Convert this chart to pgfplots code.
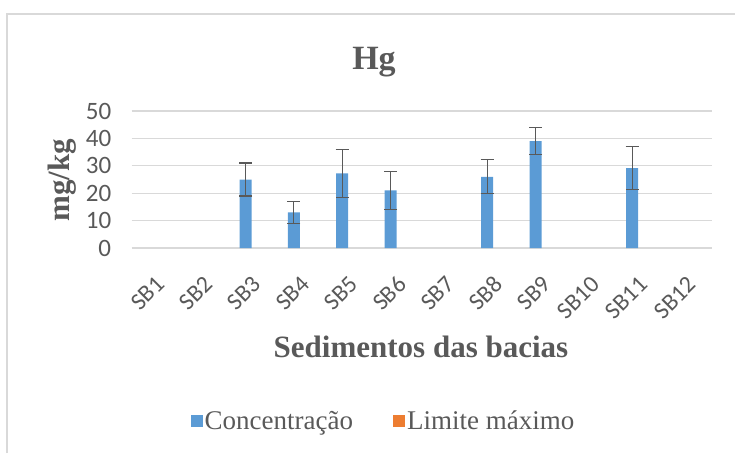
\documentclass[border=0pt]{standalone}
\usepackage{pgfplots}
\pgfplotsset{compat=1.18}
\usepackage{pgfplotstable}
\usepackage{fontspec}
\setmainfont{Liberation Serif}
\newfontfamily\calibri{Carlito}
\definecolor{txt}{HTML}{595959}
\definecolor{gridc}{HTML}{D9D9D9}
\definecolor{cblue}{HTML}{5B9BD5}
\definecolor{corange}{HTML}{ED7D31}
\definecolor{errc}{HTML}{595959}

\pgfplotstableread{
x y e
2 25 6
3 13 4
4 27.2 8.8
5 21 7
7 26 6.2
8 39 4.9
10 29.2 7.9
}\conc

\pgfplotstableread{
x y
0 0
1 0
2 0
3 0
4 0
5 0
6 0
7 0
8 0
9 0
10 0
11 0
}\limite

\begin{document}
\begin{tikzpicture}
\useasboundingbox (0pt,0pt) rectangle (735pt,-453pt);
\draw[gridc, line width=2pt] (7pt,-453pt) -- (7pt,-14pt) -- (735pt,-14pt);
\begin{axis}[
  at={(131.7pt,-248pt)}, anchor=south west,
  scale only axis, width=580pt, height=137pt,
  ybar=2pt, bar width=12pt,
  xmin=-0.5, xmax=11.5, ymin=0, ymax=50,
  ytick={0,10,...,50},
  xtick={0,...,11},
  xticklabels={SB1,SB2,SB3,SB4,SB5,SB6,SB7,SB8,SB9,SB10,SB11,SB12},
  ymajorgrids, grid style={gridc, line width=1.3pt},
  axis line style={draw=none}, major tick length=0pt,
  tick label style={font=\calibri\fontsize{25}{29}\selectfont, text=txt},
  /pgf/number format/assume math mode=true,
  yticklabel style={anchor=east, xshift=-17pt},
  xticklabel style={yshift=-30pt, xshift=7pt, rotate=45, anchor=east, font=\calibri\fontsize{24}{28}\selectfont},
  legend columns=2,
  legend style={draw=none, fill=none, at={(0.434,-1.263)}, anchor=center,
    font=\fontsize{27}{32}\selectfont, text=txt,
    /tikz/every even column/.append style={column sep=38pt}},
]
\addplot[fill=cblue, draw=none,
  legend image code/.code={\fill[cblue] (-4pt,-6pt) rectangle (8pt,6pt);},
  error bars/.cd, y dir=both, y explicit,
  error bar style={line width=1.2pt, color=errc},
  error mark options={rotate=90, mark size=6.5pt, line width=1.2pt, color=errc}]
  table[x=x, y=y, y error=e] {\conc};
\addlegendentry{Concentração}
\addplot[fill=corange, draw=none, fill opacity=0,
  legend image code/.code={\fill[corange, fill opacity=1, opacity=1] (-4pt,-6pt) rectangle (8pt,6pt);}]
  table[x=x, y=y] {\limite};
\addlegendentry{Limite máximo}
\end{axis}
\node[anchor=base, font=\bfseries\fontsize{34}{40}\selectfont, text=txt] at (374pt,-69pt) {Hg};
\node[anchor=base, font=\bfseries\fontsize{31}{36}\selectfont, text=txt] at (421pt,-357pt) {Sedimentos das bacias};
\node[rotate=90, anchor=base, font=\bfseries\fontsize{31}{36}\selectfont, text=txt] at (69pt,-180pt) {mg/kg};
\end{tikzpicture}
\end{document}
